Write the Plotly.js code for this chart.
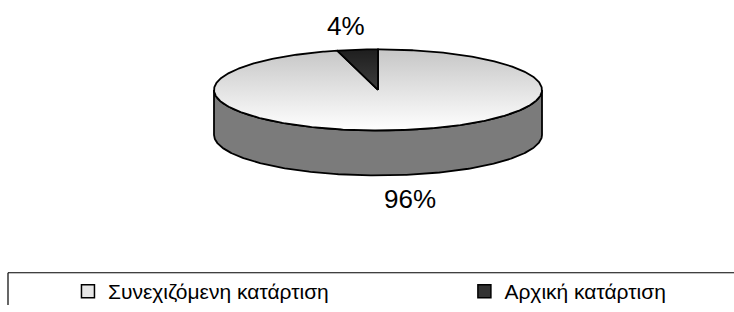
<!DOCTYPE html>
<html>
<head>
<meta charset="utf-8">
<script src="https://cdn.plot.ly/plotly-3.0.1.min.js"></script>
<style>html,body{margin:0;padding:0;background:#fff;}#chart{width:734px;height:312px;}</style>
</head>
<body>
<div id="chart"></div>
<script>
// ---- data ----
const categories = ['Συνεχιζόμενη κατάρτιση', 'Αρχική κατάρτιση'];
const values = [96, 4];

// ---- styles ----
const topScales = [
  [[0, '#c6c6c6'], [1, '#ffffff']],
  [[0, '#1e1e1e'], [1, '#5c5c5c']]
];
const sideColors = ['#7b7b7b', '#333333'];
const legendColors = ['#e6e6e6', '#333333'];
const legendNames = ['legend', 'legend2'];
const FONT = 'Liberation Sans, Arial, sans-serif';

// ---- geometry of the projected pie (pixel units via axes) ----
const W = 734, H = 312;
const cx = 378, cy = 92, rx = 164, ry = 41.5, depth = 46;
const total = values.reduce((a, b) => a + b, 0);

function pt(a, dy) { return [cx + rx * Math.cos(a), cy + ry * Math.sin(a) + dy]; }
function arc(a0, a1, dy) {
  const n = Math.max(2, Math.ceil(Math.abs(a1 - a0) / 0.01));
  const xs = [], ys = [];
  for (let k = 0; k <= n; k++) {
    const a = a0 + (a1 - a0) * k / n;
    const p = pt(a, dy);
    xs.push(p[0]); ys.push(p[1]);
  }
  return [xs, ys];
}

const sideTraces = [], topTraces = [], annotations = [];
let cum = 0;
values.forEach((v, i) => {
  const a0 = -Math.PI / 2 + 2 * Math.PI * cum / total;
  const a1 = a0 + 2 * Math.PI * v / total;
  cum += v;
  // front side (visible where sin > 0, i.e. angle in [0, PI])
  const s0 = Math.max(a0, 0), s1 = Math.min(a1, Math.PI);
  if (s0 < s1) {
    const t = arc(s0, s1, 0), b = arc(s1, s0, depth);
    sideTraces.push({
      type: 'scatter', mode: 'lines', fill: 'toself',
      x: t[0].concat(b[0]).concat([t[0][0]]),
      y: t[1].concat(b[1]).concat([t[1][0]]),
      fillcolor: sideColors[i],
      line: { color: '#000', width: 1.8 },
      showlegend: false, hoverinfo: 'skip'
    });
  }
  // top face
  const ta = arc(a0, a1, 0);
  topTraces.push({
    type: 'scatter', mode: 'lines', fill: 'toself',
    x: [cx].concat(ta[0]).concat([cx]),
    y: [cy].concat(ta[1]).concat([cy]),
    fillgradient: { type: 'vertical', colorscale: topScales[i], start: cy - ry, stop: cy + ry },
    line: { color: '#000', width: 1.8 },
    showlegend: false, hoverinfo: 'skip'
  });
  // percentage label outside the slice
  const mid = (a0 + a1) / 2;
  const f = 1.58;
  const lx = cx + f * rx * Math.cos(mid);
  const ly = cy + f * ry * Math.sin(mid) + (Math.sin(mid) > 0 ? depth : 0);
  annotations.push({
    x: lx, y: ly, xref: 'x', yref: 'y', showarrow: false,
    text: Math.round(v / total * 100) + '%',
    font: { family: FONT, size: 26, color: '#000' },
    xanchor: 'center', yanchor: 'middle'
  });
});

const legendTraces = categories.map((c, i) => ({
  type: 'scatter', mode: 'markers', x: [null], y: [null], name: c,
  legend: legendNames[i],
  marker: { symbol: 'square', size: 13, color: legendColors[i], line: { color: '#000', width: 1.5 } },
  hoverinfo: 'skip'
}));

const legendStyle = (x) => ({
  orientation: 'h', x: x, xanchor: 'left', y: 0.044, yanchor: 'middle',
  font: { family: FONT, size: 21, color: '#000' },
  bgcolor: 'rgba(0,0,0,0)', borderwidth: 0
});

const layout = {
  width: W, height: H,
  margin: { l: 0, r: 0, t: 0, b: 0 },
  paper_bgcolor: '#fff', plot_bgcolor: '#fff',
  hovermode: false,
  xaxis: { range: [0, W], visible: false, fixedrange: true },
  yaxis: { range: [H, 0], visible: false, fixedrange: true },
  showlegend: true,
  legend: legendStyle(0.0926),
  legend2: legendStyle(0.6327),
  shapes: [
    { type: 'line', xref: 'x', yref: 'y', x0: 8, x1: W, y0: 279, y1: 279, line: { color: '#000', width: 1.2 } },
    { type: 'line', xref: 'x', yref: 'y', x0: 8, x1: 8, y0: 279, y1: H, line: { color: '#000', width: 1.2 } }
  ],
  annotations: annotations
};

Plotly.newPlot('chart', sideTraces.concat(topTraces).concat(legendTraces), layout, { staticPlot: true, displayModeBar: false });
</script>
</body>
</html>
